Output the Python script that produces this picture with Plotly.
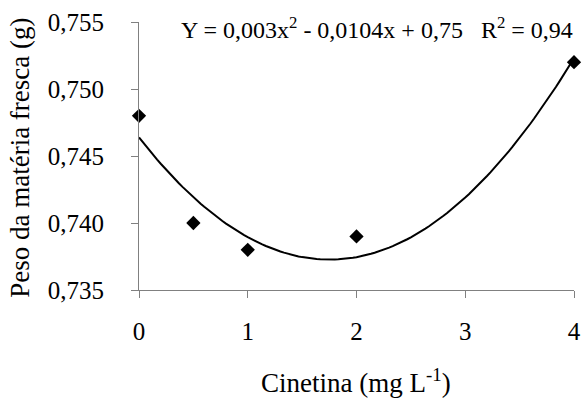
import numpy as np
import plotly.graph_objects as go

# Data
cinetina = [0, 0.5, 1, 2, 4]
peso = [0.748, 0.740, 0.738, 0.739, 0.752]
x_ticks = [0, 1, 2, 3, 4]
y_ticks = [0.735, 0.740, 0.745, 0.750, 0.755]
y_ticktext = ["0,735", "0,740", "0,745", "0,750", "0,755"]
equation = "Y = 0,003x<sup>2</sup> - 0,0104x + 0,75&nbsp;&nbsp;&nbsp;R<sup>2</sup> = 0,94"
x_title = "Cinetina (mg L<sup>-1</sup>)"
y_title = "Peso da matéria fresca (g)"

# Quadratic trend line fitted to the points
coef = np.polyfit(cinetina, peso, 2)
xs = np.linspace(0, 4, 121)
ys = np.polyval(coef, xs)

FONT = "Liberation Serif"

fig = go.Figure()
fig.add_trace(go.Scatter(x=xs, y=ys, mode="lines",
                         line=dict(color="black", width=2), hoverinfo="skip"))
fig.add_trace(go.Scatter(x=cinetina, y=peso, mode="markers",
                         marker=dict(symbol="diamond", size=11, color="black"),
                         cliponaxis=False))

fig.update_layout(
    width=584, height=398,
    margin=dict(l=139, r=10, t=22, b=108),
    paper_bgcolor="white", plot_bgcolor="white",
    showlegend=False,
    font=dict(family=FONT, size=24, color="black"),
    xaxis=dict(range=[0, 4], tickvals=x_ticks, showline=True, linecolor="#808080",
               linewidth=1, ticks="outside", ticklen=7, tickcolor="#808080",
               showgrid=False, zeroline=False, ticklabelstandoff=12,
               automargin=False,
               tickfont=dict(family=FONT, size=25, color="black")),
    yaxis=dict(range=[0.735, 0.755], tickvals=y_ticks, ticktext=y_ticktext,
               showline=True, linecolor="#808080", linewidth=1, ticks="outside",
               ticklen=7, tickcolor="#808080", showgrid=False, zeroline=False,
               ticklabelstandoff=22, automargin=False,
               tickfont=dict(family=FONT, size=25, color="black")),
    annotations=[
        dict(text=equation, xref="paper", yref="paper", x=0.547, y=0.978,
             showarrow=False, font=dict(family=FONT, size=24, color="black"),
             xanchor="center", yanchor="middle"),
        dict(text=x_title, xref="paper", yref="paper", x=0.499, y=-0.338,
             showarrow=False, font=dict(family=FONT, size=27, color="black"),
             xanchor="center", yanchor="middle"),
        dict(text=y_title, xref="paper", yref="paper", x=-0.274, y=0.4925,
             showarrow=False, font=dict(family=FONT, size=27, color="black"),
             textangle=-90, xanchor="center", yanchor="middle"),
    ],
)

fig.write_html("out.html", config={"displayModeBar": False},
               post_script="document.body.style.margin='0px';document.body.style.overflow='hidden';")
